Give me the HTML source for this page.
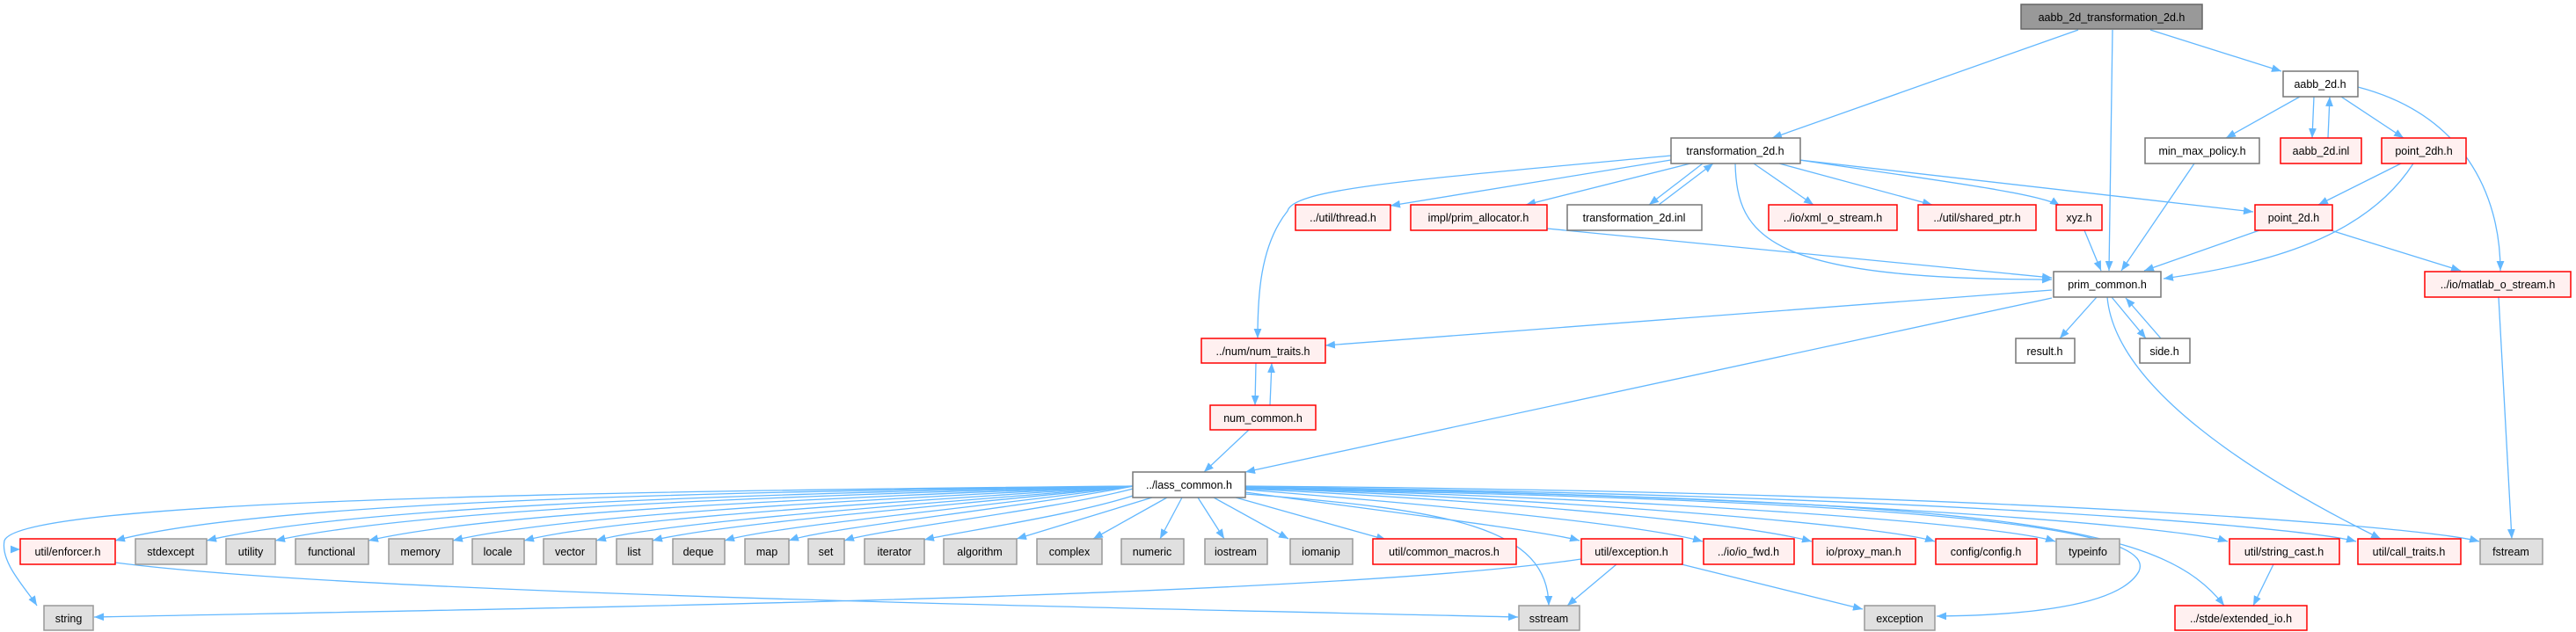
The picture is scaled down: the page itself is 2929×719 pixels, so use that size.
<!DOCTYPE html>
<html><head><meta charset="utf-8"><style>
html,body{margin:0;padding:0;background:#fff;}
svg{display:block;}
text{font-family:"Liberation Sans","DejaVu Sans",sans-serif;font-size:12.5px;fill:#000;text-anchor:middle;}
.n{fill:#fff;stroke:#777;stroke-width:1.5}
.r{fill:#fff0f0;stroke:#f00;stroke-width:1.5}
.g{fill:#e0e0e0;stroke:#999;stroke-width:1.5}
.t{fill:#999;stroke:#666;stroke-width:1.5}
path.e{fill:none;stroke:#63b8ff;stroke-width:1.3;marker-end:url(#a)}
</style></head><body>
<svg width="2929" height="719" viewBox="0 0 2929 719" xmlns="http://www.w3.org/2000/svg">
<defs><marker id="a" viewBox="0 0 10 8" refX="10" refY="4" markerWidth="11" markerHeight="9" markerUnits="userSpaceOnUse" orient="auto"><path d="M0,0L10,4L0,8z" fill="#63b8ff"/></marker></defs>
<g>
<path class="e" d="M2363,34 L2015,157"/>
<path class="e" d="M2402,34 L2398,308"/>
<path class="e" d="M2445,34 L2594,81"/>
<path class="e" d="M2615,110 L2531,157"/>
<path class="e" d="M2631,110 L2629,157"/>
<path class="e" d="M2647,157 L2649,110"/>
<path class="e" d="M2662,110 L2733,157"/>
<path class="e" d="M2681,99 C2800,130 2843,220 2843,308"/>
<path class="e" d="M1900,177 C1600,205 1470,215 1464,240 C1432,280 1430,340 1430,385"/>
<path class="e" d="M1900,182 L1581,234"/>
<path class="e" d="M1922,186 L1735,233"/>
<path class="e" d="M1936,186 L1875,233"/>
<path class="e" d="M1886,233 L1948,186"/>
<path class="e" d="M1973,186 C1975,270 2010,318 2333,318"/>
<path class="e" d="M1994,186 L2062,233"/>
<path class="e" d="M2023,186 L2197,233"/>
<path class="e" d="M2046,182 C2200,205 2320,220 2342,234"/>
<path class="e" d="M2046,182 L2562,241"/>
<path class="e" d="M2495,186 L2412,308"/>
<path class="e" d="M2730,186 L2636,233"/>
<path class="e" d="M2744,186 C2690,270 2580,300 2460,317"/>
<path class="e" d="M1759,260 L2333,316"/>
<path class="e" d="M2370,262 L2389,308"/>
<path class="e" d="M2569,262 L2438,308"/>
<path class="e" d="M2650,262 L2798,308"/>
<path class="e" d="M2841,338 L2856,613"/>
<path class="e" d="M2333,330 L1507,393"/>
<path class="e" d="M2333,339 L1416,537"/>
<path class="e" d="M2384,338 L2342,385"/>
<path class="e" d="M2401,338 L2440,385"/>
<path class="e" d="M2457,385 L2417,339"/>
<path class="e" d="M2396,338 C2405,440 2560,540 2707,613"/>
<path class="e" d="M1428,413 L1427,461"/>
<path class="e" d="M1444,461 L1446,413"/>
<path class="e" d="M1420,489 L1369,537"/>
<path class="e" d="M2585,642 L2562,689"/>
<path class="e" d="M1838,642 L1782,689"/>
<path class="e" d="M1912,642 L2118,693"/>
<path class="e" d="M1798,636 C1500,680 600,692 107,702"/>
<path class="e" d="M131,640 C400,675 1200,690 1726,702"/>
<path class="e" d="M23,625 L23,625"/>
<!-- lass_common fan left -->
<path class="e" d="M1289,553 C800,560 300,570 131,615"/>
<path class="e" d="M1289,553 C850,562 400,575 235,615"/>
<path class="e" d="M1289,553 C900,564 480,578 313,615"/>
<path class="e" d="M1289,553 C950,566 560,582 419,615"/>
<path class="e" d="M1289,553 C1000,568 640,585 515,615"/>
<path class="e" d="M1289,553 C1050,570 700,588 596,615"/>
<path class="e" d="M1289,553 C1080,572 760,592 678,615"/>
<path class="e" d="M1289,553 C1100,574 820,595 742,615"/>
<path class="e" d="M1289,553 C1130,576 880,598 824,615"/>
<path class="e" d="M1289,553 C1160,578 940,600 897,615"/>
<path class="e" d="M1292,555 C1200,580 1000,602 960,615"/>
<path class="e" d="M1300,560 C1230,585 1090,605 1051,614"/>
<path class="e" d="M1310,566 L1156,613"/>
<path class="e" d="M1327,566 L1243,613"/>
<path class="e" d="M1344,566 L1319,613"/>
<path class="e" d="M1362,566 L1392,613"/>
<path class="e" d="M1289,553 C500,560 20,575 5,615 C0,640 30,670 42,689"/>
<!-- lass_common fan right -->
<path class="e" d="M1380,566 L1465,613"/>
<path class="e" d="M1405,566 L1576,614"/>
<path class="e" d="M1416,560 C1600,585 1760,605 1796,615"/>
<path class="e" d="M1416,557 C1700,580 1880,600 1936,616"/>
<path class="e" d="M1416,556 C1800,575 2000,600 2060,616"/>
<path class="e" d="M1416,555 C1850,572 2150,600 2200,616"/>
<path class="e" d="M1416,555 C1950,570 2280,598 2337,616"/>
<path class="e" d="M1416,554 C2100,565 2480,600 2533,616"/>
<path class="e" d="M1416,554 C2200,563 2620,600 2679,616"/>
<path class="e" d="M1416,553 C2300,560 2760,600 2819,616"/>
<path class="e" d="M1416,562 C1650,580 1760,600 1761,689"/>
<path class="e" d="M1416,556 C2300,570 2450,610 2432,650 C2410,690 2300,700 2202,701"/>
<path class="e" d="M1416,555 C2300,568 2460,600 2529,689"/>
</g>
<g>
<rect class="t" x="2298" y="5" width="206" height="28"/><text x="2401" y="24">aabb_2d_transformation_2d.h</text>
<rect class="n" x="1900" y="157" width="147" height="29"/><text x="1973" y="176">transformation_2d.h</text>
<rect class="n" x="2596" y="81" width="85" height="29"/><text x="2638" y="100">aabb_2d.h</text>
<rect class="n" x="2439" y="157" width="130" height="29"/><text x="2504" y="176">min_max_policy.h</text>
<rect class="r" x="2593" y="157" width="92" height="29"/><text x="2639" y="176">aabb_2d.inl</text>
<rect class="r" x="2708" y="157" width="96" height="29"/><text x="2756" y="176">point_2dh.h</text>
<rect class="r" x="1473" y="233" width="108" height="29"/><text x="1527" y="252">../util/thread.h</text>
<rect class="r" x="1604" y="233" width="155" height="29"/><text x="1681" y="252">impl/prim_allocator.h</text>
<rect class="n" x="1782" y="233" width="153" height="29"/><text x="1858" y="252">transformation_2d.inl</text>
<rect class="r" x="2011" y="233" width="146" height="29"/><text x="2084" y="252">../io/xml_o_stream.h</text>
<rect class="r" x="2181" y="233" width="134" height="29"/><text x="2248" y="252">../util/shared_ptr.h</text>
<rect class="r" x="2338" y="233" width="52" height="29"/><text x="2364" y="252">xyz.h</text>
<rect class="r" x="2564" y="233" width="88" height="29"/><text x="2608" y="252">point_2d.h</text>
<rect class="n" x="2335" y="309" width="122" height="29"/><text x="2396" y="328">prim_common.h</text>
<rect class="r" x="2757" y="309" width="166" height="29"/><text x="2840" y="328">../io/matlab_o_stream.h</text>
<rect class="n" x="2292" y="385" width="67" height="28"/><text x="2325" y="404">result.h</text>
<rect class="n" x="2433" y="385" width="57" height="28"/><text x="2461" y="404">side.h</text>
<rect class="r" x="1366" y="385" width="141" height="28"/><text x="1436" y="404">../num/num_traits.h</text>
<rect class="r" x="1376" y="461" width="120" height="28"/><text x="1436" y="480">num_common.h</text>
<rect class="n" x="1288" y="537" width="128" height="29"/><text x="1352" y="556">../lass_common.h</text>

<rect class="r" x="23" y="613" width="108" height="29"/><text x="77" y="632">util/enforcer.h</text>
<rect class="g" x="154" y="613" width="81" height="29"/><text x="194" y="632">stdexcept</text>
<rect class="g" x="257" y="613" width="56" height="29"/><text x="285" y="632">utility</text>
<rect class="g" x="336" y="613" width="83" height="29"/><text x="377" y="632">functional</text>
<rect class="g" x="442" y="613" width="73" height="29"/><text x="478" y="632">memory</text>
<rect class="g" x="537" y="613" width="59" height="29"/><text x="566" y="632">locale</text>
<rect class="g" x="618" y="613" width="60" height="29"/><text x="648" y="632">vector</text>
<rect class="g" x="701" y="613" width="41" height="29"/><text x="721" y="632">list</text>
<rect class="g" x="765" y="613" width="59" height="29"/><text x="794" y="632">deque</text>
<rect class="g" x="847" y="613" width="50" height="29"/><text x="872" y="632">map</text>
<rect class="g" x="919" y="613" width="41" height="29"/><text x="939" y="632">set</text>
<rect class="g" x="983" y="613" width="68" height="29"/><text x="1017" y="632">iterator</text>
<rect class="g" x="1073" y="613" width="83" height="29"/><text x="1114" y="632">algorithm</text>
<rect class="g" x="1179" y="613" width="74" height="29"/><text x="1216" y="632">complex</text>
<rect class="g" x="1275" y="613" width="71" height="29"/><text x="1310" y="632">numeric</text>
<rect class="g" x="1370" y="613" width="71" height="29"/><text x="1405" y="632">iostream</text>
<rect class="g" x="1467" y="613" width="71" height="29"/><text x="1502" y="632">iomanip</text>
<rect class="r" x="1561" y="613" width="163" height="29"/><text x="1642" y="632">util/common_macros.h</text>
<rect class="r" x="1798" y="613" width="115" height="29"/><text x="1855" y="632">util/exception.h</text>
<rect class="r" x="1937" y="613" width="103" height="29"/><text x="1988" y="632">../io/io_fwd.h</text>
<rect class="r" x="2061" y="613" width="117" height="29"/><text x="2119" y="632">io/proxy_man.h</text>
<rect class="r" x="2201" y="613" width="115" height="29"/><text x="2258" y="632">config/config.h</text>
<rect class="g" x="2338" y="613" width="72" height="29"/><text x="2374" y="632">typeinfo</text>
<rect class="r" x="2535" y="613" width="125" height="29"/><text x="2597" y="632">util/string_cast.h</text>
<rect class="r" x="2681" y="613" width="117" height="29"/><text x="2739" y="632">util/call_traits.h</text>
<rect class="g" x="2820" y="613" width="71" height="29"/><text x="2855" y="632">fstream</text>

<rect class="g" x="50" y="689" width="56" height="28"/><text x="78" y="708">string</text>
<rect class="g" x="1727" y="689" width="69" height="28"/><text x="1761" y="708">sstream</text>
<rect class="g" x="2120" y="689" width="80" height="28"/><text x="2160" y="708">exception</text>
<rect class="r" x="2473" y="689" width="150" height="28"/><text x="2548" y="708">../stde/extended_io.h</text>
</g>
</svg>
</body></html>
